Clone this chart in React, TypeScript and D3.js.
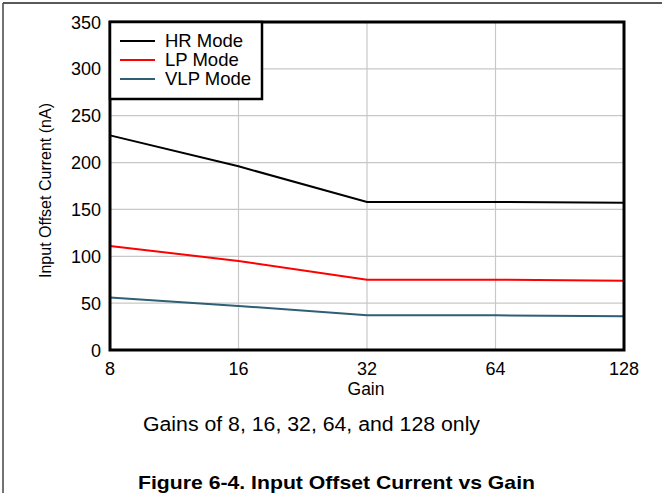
import React from "react";
import * as d3 from "d3";

const gains = [8, 16, 32, 64, 128];
const hrMode = [229, 196, 158, 158, 157];
const lpMode = [111, 95, 75, 75, 74];
const vlpMode = [56, 47, 37, 37, 36];
const yTicks = [0, 50, 100, 150, 200, 250, 300, 350];
const seriesNames = ["HR Mode", "LP Mode", "VLP Mode"];
const seriesColors = ["#000000", "#ff0000", "#2e5f74"];

export default function App() {
  const W = 662, H = 493;
  const left = 110, right = 624, top = 22, bottom = 350;
  const x = d3.scaleLog().base(2).domain([8, 128]).range([left, right]);
  const y = d3.scaleLinear().domain([0, 350]).range([bottom, top]);
  const line = d3.line<number>().x((_, i) => x(gains[i])).y((d) => y(d));
  const series = [hrMode, lpMode, vlpMode];
  const font = "'Liberation Sans', Arial, sans-serif";
  return (
    <svg width={W} height={H} style={{ position: "absolute", left: 0, top: 0 }} fontFamily={font}>
      <rect x={0} y={0} width={W} height={H} fill="#fff" />
      <line x1={3} y1={3} x2={W} y2={3} stroke="#222" strokeWidth={1.5} />
      <line x1={3} y1={3} x2={3} y2={H} stroke="#444" strokeWidth={1.5} />
      {yTicks.map((t) => (
        <line key={"gy" + t} x1={left} x2={right} y1={y(t)} y2={y(t)} stroke="#c8c8c8" strokeWidth={1.2} />
      ))}
      {gains.map((g) => (
        <line key={"gx" + g} x1={x(g)} x2={x(g)} y1={top} y2={bottom} stroke="#c8c8c8" strokeWidth={1.2} />
      ))}
      {series.map((s, i) => (
        <path key={i} d={line(s) || ""} fill="none" stroke={seriesColors[i]} strokeWidth={2} />
      ))}
      <rect x={left} y={top} width={right - left} height={bottom - top} fill="none" stroke="#000" strokeWidth={3} />
      {yTicks.map((t) => (
        <text key={"ty" + t} x={101} y={y(t) + 6.5} fontSize={18} textAnchor="end">{t}</text>
      ))}
      {gains.map((g) => (
        <text key={"tx" + g} x={x(g)} y={375} fontSize={18} textAnchor="middle">{g}</text>
      ))}
      <text x={366} y={395} fontSize={17.5} textAnchor="middle">Gain</text>
      <text transform={`translate(51,${(103 + 278) / 2}) rotate(-90)`} fontSize={16.5} textAnchor="middle" textLength={175} lengthAdjust="spacingAndGlyphs">Input Offset Current (nA)</text>
      <rect x={left} y={top} width={152} height={77} fill="#fff" stroke="#000" strokeWidth={2.5} />
      {seriesNames.map((n, i) => (
        <g key={n}>
          <line x1={120} x2={155} y1={41 + i * 19} y2={41 + i * 19} stroke={seriesColors[i]} strokeWidth={2} />
          <text x={165} y={47 + i * 19} fontSize={18.5}>{n}</text>
        </g>
      ))}
      <text x={143} y={431} fontSize={20} textLength={337} lengthAdjust="spacingAndGlyphs">Gains of 8, 16, 32, 64, and 128 only</text>
      <text x={138} y={489} fontSize={19} fontWeight="bold" textLength={397} lengthAdjust="spacingAndGlyphs">Figure 6-4. Input Offset Current vs Gain</text>
    </svg>
  );
}
